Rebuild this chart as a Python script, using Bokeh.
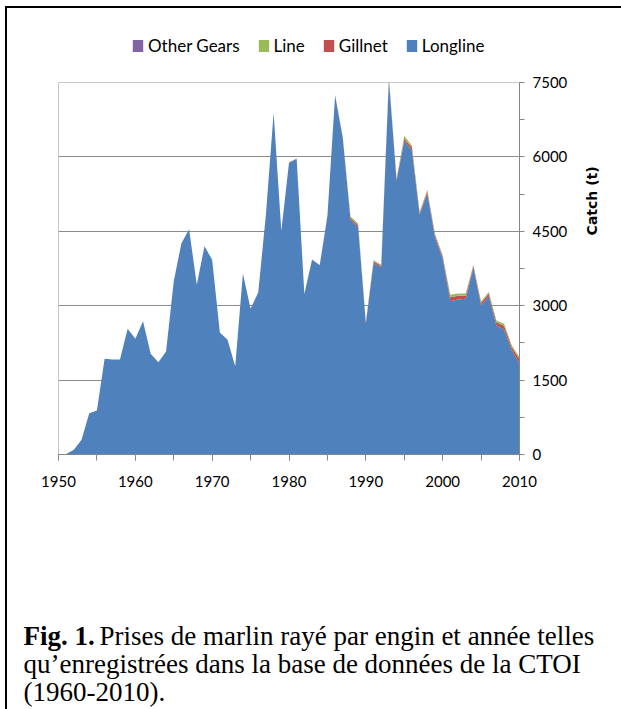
import math
from bokeh.plotting import figure
from bokeh.layouts import column, row
from bokeh.models import (Range1d, FixedTicker, Legend, LegendItem, Label,
                          ColumnDataSource)
from bokeh.embed import file_html
from bokeh.resources import INLINE

years = list(range(1950, 2011))

longline = [0, 10, 95, 296, 833, 887, 1929, 1915, 1915, 2533,
            2332, 2688, 2030, 1861, 2076, 3494, 4260, 4543, 3420, 4200,
            3924, 2460, 2312, 1781, 3650, 2940, 3270, 4850, 6890, 4510,
            5880, 5960, 3235, 3924, 3815, 4810, 7240, 6380, 4738, 4583,
            2640, 3857, 3776, 7560, 5520, 6316, 6128, 4832, 5256, 4381,
            3945, 3091, 3124, 3138, 3763, 3004, 3185, 2601, 2513, 2097,
            1828]

gillnet = [0, 0, 0, 0, 0, 0, 0, 0, 0, 0,
           0, 0, 0, 0, 0, 0, 0, 0, 0, 0,
           0, 0, 0, 0, 0, 0, 0, 0, 0, 0,
           5, 10, 5, 5, 5, 8, 10, 15, 40, 40,
           20, 35, 30, 30, 25, 48, 60, 35, 50, 45,
           45, 81, 75, 65, 40, 55, 55, 65, 80, 65,
           90]

line = [0, 0, 0, 0, 0, 0, 0, 0, 0, 0,
        0, 0, 0, 0, 0, 0, 0, 0, 0, 0,
        0, 0, 0, 0, 0, 0, 0, 0, 0, 0,
        0, 0, 0, 0, 0, 0, 5, 8, 27, 27,
        8, 20, 17, 20, 15, 53, 40, 18, 30, 23,
        22, 47, 45, 37, 20, 25, 32, 35, 41, 35,
        44]

other_gears = [0, 0, 0, 0, 0, 0, 0, 0, 0, 0,
               0, 0, 0, 0, 0, 0, 0, 0, 0, 0,
               0, 0, 0, 0, 0, 0, 0, 0, 0, 0,
               0, 0, 0, 0, 0, 0, 0, 0, 0, 0,
               0, 2, 2, 3, 3, 4, 4, 3, 3, 3,
               3, 4, 4, 4, 4, 3, 3, 3, 3, 3,
               3]

series_names = ["Longline", "Gillnet", "Line", "Other Gears"]
series_colors = ["#4F81BD", "#C0504D", "#9BBB59", "#8064A2"]
stack_cols = ["longline", "gillnet", "line", "other"]

x_major = [1950, 1960, 1970, 1980, 1990, 2000, 2010]
x_minor = [1950, 1955, 1960, 1965, 1970, 1975, 1980, 1985, 1990, 1995,
           2000, 2005, 2010]
y_major = [0, 1500, 3000, 4500, 6000, 7500]
y_minor = [750, 2250, 3750, 5250, 6750]
y_grid = [1500, 3000, 4500, 6000]

caption_bold = "Fig. 1."
caption_lines = ["Prises de marlin rayé par engin et année telles",
                 "qu\u2019enregistrées dans la base de données de la CTOI",
                 "(1960-2010)."]
y_label = "Catch (t)"

AX_FONT = "Lato"
CAP_FONT = "Liberation Serif"
axis_gray = "#868686"

src = ColumnDataSource(dict(year=years, longline=longline, gillnet=gillnet,
                            line=line, other=other_gears))


def blank_fig(w, h):
    f = figure(x_range=Range1d(0, w), y_range=Range1d(0, h),
               width=w, height=h, min_border=0,
               x_axis_location=None, y_axis_location=None,
               output_backend="svg", toolbar_location=None,
               background_fill_color="white", border_fill_color="white",
               outline_line_color=None)
    f.grid.visible = False
    return f


# ---------------- legend strip ----------------
# the same stacked series, out of this strip's view, carry the legend swatches
leg = blank_fig(607, 64)
leg_rs = leg.varea_stack(stackers=stack_cols, x="year", color=series_colors,
                         source=src)
items = [LegendItem(label=series_names[i], renderers=[leg_rs[i]])
         for i in [3, 2, 1, 0]]
legend = Legend(items=items, orientation="horizontal", location=(124, 16),
                glyph_width=13, glyph_height=15, label_standoff=4, spacing=17,
                padding=0, margin=0, label_height=20,
                label_text_font=AX_FONT, label_text_font_size="17px",
                label_text_color="black", border_line_color=None,
                background_fill_alpha=0)
leg.add_layout(legend, "center")

# ---------------- main chart ----------------
p = figure(x_range=Range1d(1950, 2010), y_range=Range1d(0, 7500),
           y_axis_location="right",
           frame_width=461, frame_height=372,
           min_border_left=51, min_border_right=51,
           min_border_top=10, min_border_bottom=146,
           output_backend="svg", toolbar_location=None,
           background_fill_color="white", border_fill_color="white")

rs = p.varea_stack(stackers=stack_cols, x="year", color=series_colors,
                   source=src)

xa = p.xaxis[0]
xa.ticker = FixedTicker(ticks=x_major, minor_ticks=x_minor)
xa.axis_line_color = axis_gray
xa.major_tick_line_color = axis_gray
xa.minor_tick_line_color = axis_gray
xa.major_tick_out = 6
xa.minor_tick_out = 6
xa.major_tick_in = 0
xa.minor_tick_in = 0
xa.major_label_text_font = AX_FONT
xa.major_label_text_font_size = "15px"
xa.major_label_text_color = "black"
xa.major_label_standoff = 15

ya = p.yaxis[0]
ya.ticker = FixedTicker(ticks=y_major, minor_ticks=y_minor)
ya.axis_line_color = axis_gray
ya.major_tick_line_color = axis_gray
ya.minor_tick_line_color = axis_gray
ya.major_tick_out = 5
ya.minor_tick_out = 5
ya.major_tick_in = 0
ya.minor_tick_in = 0
ya.major_label_text_font = AX_FONT
ya.major_label_text_font_size = "15px"
ya.major_label_text_color = "black"
ya.major_label_standoff = 8

p.xgrid.visible = False
p.ygrid.ticker = FixedTicker(ticks=y_grid)
p.ygrid.grid_line_color = "#8c8c8c"
p.ygrid.grid_line_width = 1

p.outline_line_color = "#c8c8c8"
p.outline_line_width = 1

# ---------------- right-hand axis title ----------------
lab = blank_fig(44, 528)
lab.add_layout(Label(x=21, y=360, text=y_label, angle=math.pi / 2,
                     text_align="center", text_baseline="middle",
                     text_font="DejaVu Sans", text_font_style="bold",
                     text_font_size="14px", text_color="black"))

# ---------------- caption ----------------
cap = blank_fig(607, 109)
cap.add_layout(Label(x=16, y=74, text=caption_bold, text_font=CAP_FONT,
                     text_font_style="bold", text_font_size="27px",
                     text_baseline="alphabetic", text_color="black"))
cap_pos = [(92, 74), (16, 46), (16, 18)]
for (cx, cy), txt in zip(cap_pos, caption_lines):
    cap.add_layout(Label(x=cx, y=cy, text=txt, text_font=CAP_FONT,
                         text_font_size="27px", text_baseline="alphabetic",
                         text_color="black"))

page = column(leg, row(p, lab), cap,
              styles={"border-left": "2px solid black",
                      "border-top": "2px solid black",
                      "margin-left": "5px", "margin-top": "6px",
                      "padding-right": "7px"})

open("out.html", "w").write(file_html(page, INLINE))
